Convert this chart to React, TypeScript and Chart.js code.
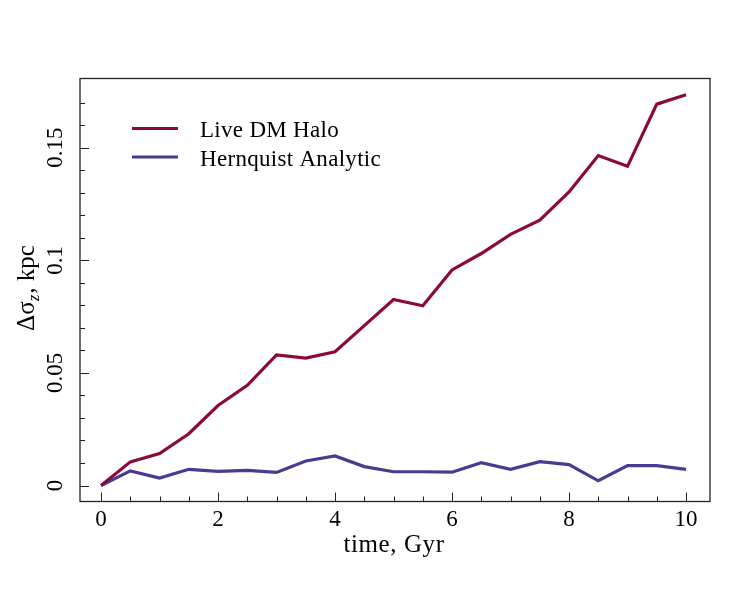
import { useEffect, useRef } from "react";
import { Chart, registerables } from "chart.js";

Chart.register(...registerables);

// time in Gyr
const times = [0, 0.5, 1, 1.5, 2, 2.5, 3, 3.5, 4, 4.5, 5, 5.5, 6, 6.5, 7, 7.5, 8, 8.5, 9, 9.5, 10];
const liveHalo = [
  0, 0.0105, 0.0142, 0.023, 0.0355, 0.0445, 0.058, 0.0566, 0.0594, 0.071, 0.0826,
  0.0798, 0.0957, 0.103, 0.1115, 0.1178, 0.1303, 0.1465, 0.1417, 0.1693, 0.1735,
];
const hernquist = [
  0, 0.0065, 0.0033, 0.0072, 0.0063, 0.0067, 0.0058, 0.0109, 0.0131, 0.0084, 0.0061,
  0.0061, 0.0059, 0.0101, 0.0072, 0.0106, 0.0093, 0.0021, 0.0088, 0.0088, 0.0072,
];
const seriesNames = ["Live DM Halo", "Hernquist Analytic"];
const seriesColors = ["#8b0a3b", "#4b3a92"];

const xMajor = [0, 2, 4, 6, 8, 10];
const xMinor = [0.5, 1, 1.5, 2.5, 3, 3.5, 4.5, 5, 5.5, 6.5, 7, 7.5, 8.5, 9, 9.5];
const yMajor = [0, 0.05, 0.1, 0.15];
const yMajorLabels = ["0", "0.05", "0.1", "0.15"];
const yMinor = [
  0.01, 0.02, 0.03, 0.04, 0.06, 0.07, 0.08, 0.09, 0.11, 0.12, 0.13, 0.14, 0.16, 0.17,
];

const SERIF = "'Liberation Serif', 'Times New Roman', serif";

// frame, inward ticks, tick labels, axis titles and legend
const framePlugin = {
  id: "frame",
  afterDraw(chart: any) {
    const { ctx, chartArea: a, scales } = chart;
    const xs = scales.x;
    const ys = scales.y;
    ctx.save();

    ctx.strokeStyle = "#222";
    ctx.lineWidth = 1.3;
    ctx.strokeRect(a.left, a.top, a.right - a.left, a.bottom - a.top);

    ctx.lineWidth = 1;
    xMajor.forEach((v) => {
      const px = Math.round(xs.getPixelForValue(v)) + 0.5;
      ctx.beginPath();
      ctx.moveTo(px, a.bottom);
      ctx.lineTo(px, a.bottom - 9);
      ctx.stroke();
    });
    xMinor.forEach((v) => {
      const px = Math.round(xs.getPixelForValue(v)) + 0.5;
      ctx.beginPath();
      ctx.moveTo(px, a.bottom);
      ctx.lineTo(px, a.bottom - 5);
      ctx.stroke();
    });
    yMajor.forEach((v) => {
      const py = Math.round(ys.getPixelForValue(v)) + 0.5;
      ctx.beginPath();
      ctx.moveTo(a.left, py);
      ctx.lineTo(a.left + 9, py);
      ctx.stroke();
    });
    yMinor.forEach((v) => {
      const py = Math.round(ys.getPixelForValue(v)) + 0.5;
      ctx.beginPath();
      ctx.moveTo(a.left, py);
      ctx.lineTo(a.left + 5, py);
      ctx.stroke();
    });

    ctx.fillStyle = "#000";
    ctx.font = `23px ${SERIF}`;
    ctx.textAlign = "center";
    ctx.textBaseline = "alphabetic";
    xMajor.forEach((v) => {
      ctx.fillText(String(v), xs.getPixelForValue(v), 526);
    });
    yMajor.forEach((v, i) => {
      ctx.save();
      ctx.translate(62, ys.getPixelForValue(v));
      ctx.rotate(-Math.PI / 2);
      ctx.fillText(yMajorLabels[i], 0, 0);
      ctx.restore();
    });

    // x title
    ctx.font = `25px ${SERIF}`;
    (ctx as any).letterSpacing = "0.6px";
    ctx.fillText("time, Gyr", 394, 551.5);
    (ctx as any).letterSpacing = "0px";

    // y title with italic subscript
    ctx.save();
    ctx.translate(34, 288);
    ctx.rotate(-Math.PI / 2);
    ctx.textAlign = "left";
    const big = `25px ${SERIF}`;
    const small = `italic 17px ${SERIF}`;
    ctx.font = big;
    const w1 = ctx.measureText("Δσ").width;
    const w3 = ctx.measureText(", kpc").width;
    ctx.font = small;
    const w2 = ctx.measureText("z").width + 1;
    let x0 = -(w1 + w2 + w3) / 2;
    ctx.font = big;
    ctx.fillText("Δσ", x0, 0);
    x0 += w1;
    ctx.font = small;
    ctx.fillText("z", x0, 5);
    x0 += w2;
    ctx.font = big;
    ctx.fillText(", kpc", x0, 0);
    ctx.restore();

    // legend
    ctx.textAlign = "left";
    ctx.font = `23px ${SERIF}`;
    (ctx as any).letterSpacing = "0.3px";
    seriesNames.forEach((name, i) => {
      const y = 128.5 + i * 28.5;
      ctx.strokeStyle = seriesColors[i];
      ctx.lineWidth = 3;
      ctx.beginPath();
      ctx.moveTo(132, y);
      ctx.lineTo(178, y);
      ctx.stroke();
      ctx.fillText(name, 200, y + 8.8);
    });
    ctx.restore();
  },
};

const App = () => {
  const canvasRef = useRef<HTMLCanvasElement | null>(null);

  useEffect(() => {
    document.body.style.margin = "0";
    if (!canvasRef.current) return;

    const data = {
      datasets: [liveHalo, hernquist].map((vals, i) => ({
        label: seriesNames[i],
        data: times.map((t, j) => ({ x: t, y: vals[j] })),
        borderColor: seriesColors[i],
        borderWidth: 3.2,
        pointRadius: 0,
        tension: 0,
        fill: false,
      })),
    };

    const chart = new Chart(canvasRef.current, {
      type: "line",
      data,
      options: {
        responsive: false,
        animation: false,
        devicePixelRatio: 1,
        layout: { padding: { left: 80, top: 78.5, right: 40, bottom: 98.5 } },
        plugins: { legend: { display: false }, tooltip: { enabled: false } },
        scales: {
          x: { type: "linear", min: -0.36, max: 10.41, display: false },
          y: { type: "linear", min: -0.0071, max: 0.1807, display: false },
        },
      },
      plugins: [framePlugin],
    });

    return () => {
      chart.destroy();
    };
  }, []);

  return (
    <div style={{ width: 750, height: 600, background: "#fff" }}>
      <canvas ref={canvasRef} width={750} height={600} />
    </div>
  );
};

export default App;
